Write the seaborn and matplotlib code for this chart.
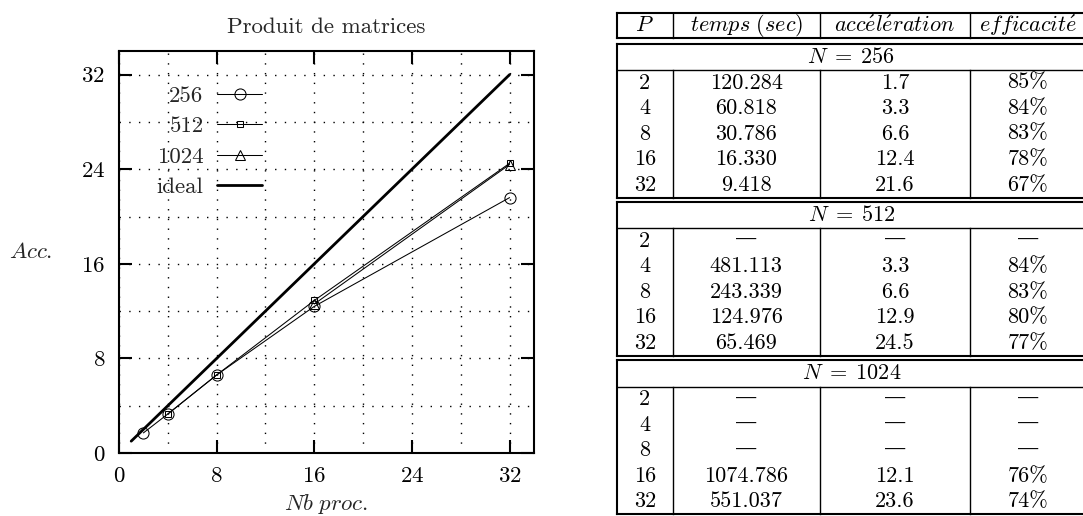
import matplotlib
matplotlib.use("Agg")
import matplotlib.pyplot as plt
import seaborn as sns
import pandas as pd
from matplotlib.ticker import FixedLocator

# ---------------- data ----------------
procs_256 = [2, 4, 8, 16, 32]
acc_256 = [1.7, 3.3, 6.6, 12.4, 21.6]
procs_512 = [4, 8, 16, 32]
acc_512 = [3.3, 6.6, 12.9, 24.5]
procs_1024 = [16, 32]
acc_1024 = [12.6, 24.4]
ideal_x = [1, 32]
ideal_y = [1, 32]

x_major = [0, 8, 16, 24, 32]
x_minor = [4, 12, 20, 28]
y_major = [0, 8, 16, 24, 32]
y_minor = [4, 12, 20, 28]

table_header = [r"$P$", r"$\mathit{temps\ (sec)}$",
                r"$\mathit{acc\acute{e}l\acute{e}ration}$", r"$\mathit{efficacit\acute{e}}$"]
table_P = ["2", "4", "8", "16", "32"]
block_titles = [r"$N\;=\;256$", r"$N\;=\;512$", r"$N\;=\;1024$"]
temps_256 = ["120.284", "60.818", "30.786", "16.330", "9.418"]
accel_256 = ["1.7", "3.3", "6.6", "12.4", "21.6"]
eff_256 = ["85%", "84%", "83%", "78%", "67%"]
temps_512 = [None, "481.113", "243.339", "124.976", "65.469"]
accel_512 = [None, "3.3", "6.6", "12.9", "24.5"]
eff_512 = [None, "84%", "83%", "80%", "77%"]
temps_1024 = [None, None, None, "1074.786", "551.037"]
accel_1024 = [None, None, None, "12.1", "23.6"]
eff_1024 = [None, None, None, "76%", "74%"]

# ---------------- style ----------------
sns.set_theme(style="ticks")
plt.rcParams["font.family"] = ["cmr10", "DejaVu Serif"]
plt.rcParams["mathtext.fontset"] = "cm"
plt.rcParams["axes.unicode_minus"] = False
plt.rcParams["axes.formatter.use_mathtext"] = True

W, H = 1083, 516
fig = plt.figure(figsize=(W / 100, H / 100), dpi=100)
fig.patch.set_facecolor("white")

# ---------------- plot ----------------
ax = fig.add_axes([119 / W, 1 - 453 / H, 415 / W, 402 / H])
ax.set_facecolor("white")

df256 = pd.DataFrame({"x": procs_256, "y": acc_256})
df512 = pd.DataFrame({"x": procs_512, "y": acc_512})
df1024 = pd.DataFrame({"x": procs_1024, "y": acc_1024})
dfideal = pd.DataFrame({"x": ideal_x, "y": ideal_y})

common = dict(color="black", linewidth=0.75, markerfacecolor="none",
              markeredgecolor="black", markeredgewidth=0.75, ax=ax)
sns.lineplot(data=df256, x="x", y="y", marker="o", markersize=8, label="256", **common)
sns.lineplot(data=df512, x="x", y="y", marker="s", markersize=4.5, label="512", **common)
sns.lineplot(data=df1024, x="x", y="y", marker="^", markersize=7, label="1024", **common)
sns.lineplot(data=dfideal, x="x", y="y", color="black", linewidth=2.0, label="ideal", ax=ax)

ax.set_xlim(0, 34)
ax.set_ylim(0, 34)
ax.xaxis.set_major_locator(FixedLocator(x_major))
ax.xaxis.set_minor_locator(FixedLocator(x_minor))
ax.yaxis.set_major_locator(FixedLocator(y_major))
ax.yaxis.set_minor_locator(FixedLocator(y_minor))
ax.grid(which="both", color="black", linestyle=(0, (1, 6)), linewidth=1.0)
ax.tick_params(which="major", direction="in", length=9.5, width=1.5,
               top=True, right=True, labelsize=16.5, pad=10, colors="black")
ax.tick_params(which="minor", length=0)
for s in ax.spines.values():
    s.set_linewidth(1.5)
    s.set_color("black")

ax.set_title("Produit de matrices", fontsize=16.5, pad=13)
ax.set_xlabel(r"$\mathit{Nb\ proc.}$", fontsize=16.5)
ax.xaxis.set_label_coords(0.5, (453 - 504) / 402)
ax.xaxis.label.set_va("center")
ax.set_ylabel(r"$\mathit{Acc.}$", fontsize=16.5, rotation=0)
ax.yaxis.set_label_coords(-0.212, 0.5)
ax.yaxis.label.set_va("center")
ax.yaxis.label.set_ha("center")

leg = ax.legend(loc="upper right", bbox_to_anchor=((262 - 119) / 415, (453 - 86) / 402),
                markerfirst=False, frameon=False, fontsize=16.5, handlelength=1.95,
                handletextpad=0.6, labelspacing=0.45, borderaxespad=0, borderpad=0)

# ---------------- table ----------------
axt = fig.add_axes([0, 0, 1, 1])
axt.set_xlim(0, W)
axt.set_ylim(H, 0)
axt.axis("off")
axt.patch.set_visible(False)

col_edges = [617, 672.7, 820, 970, 1086]
col_centers = [(col_edges[i] + col_edges[i + 1]) / 2 for i in range(4)]
lw_out, lw_in = 1.5, 1.0
fs = 16


def hline(y, x0, x1, lw):
    axt.plot([x0, x1], [y, y], color="black", lw=lw, clip_on=False,
             solid_capstyle="projecting")


def vline(x, y0, y1, lw):
    axt.plot([x, x], [y0, y1], color="black", lw=lw, clip_on=False,
             solid_capstyle="projecting")


def cell(x, y, s):
    if s is None:
        axt.text(x, y - 1, "\u2014", ha="center", va="center", fontsize=fs,
                 family=["DejaVu Serif"], color="black")
    else:
        axt.text(x, y, s, ha="center", va="center", fontsize=fs, color="black")


# header row
ht, hb = 12.7, 37.7
hline(ht, col_edges[0], col_edges[-1], lw_out)
hline(hb, col_edges[0], col_edges[-1], lw_out)
vline(col_edges[0], ht, hb, lw_out)
vline(col_edges[-1], ht, hb, lw_out)
for x in col_edges[1:-1]:
    vline(x, ht, hb, lw_in)
for x, s in zip(col_centers, table_header):
    cell(x, (ht + hb) / 2, s)

blocks = [
    (temps_256, accel_256, eff_256),
    (temps_512, accel_512, eff_512),
    (temps_1024, accel_1024, eff_1024),
]
block_h, head_h, gap = 154.0, 26.3, 4.3
row_h = (block_h - head_h) / 5
top = 43.7
for title, (tp, ac, ef) in zip(block_titles, blocks):
    bot = top + block_h
    hh = top + head_h
    hline(top, col_edges[0], col_edges[-1], lw_out)
    hline(bot, col_edges[0], col_edges[-1], lw_out)
    vline(col_edges[0], top, bot, lw_out)
    vline(col_edges[-1], top, bot, lw_out)
    hline(hh, col_edges[0], col_edges[-1], lw_in)
    for x in col_edges[1:-1]:
        vline(x, hh, bot, lw_in)
    cell((col_edges[0] + col_edges[-1]) / 2, (top + hh) / 2, title)
    for i in range(5):
        y = hh + (i + 0.5) * row_h
        cell(col_centers[0], y, table_P[i])
        cell(col_centers[1], y, tp[i])
        cell(col_centers[2], y, ac[i])
        cell(col_centers[3], y, ef[i])
    top = bot + gap

fig.savefig("out.png", dpi=100)
